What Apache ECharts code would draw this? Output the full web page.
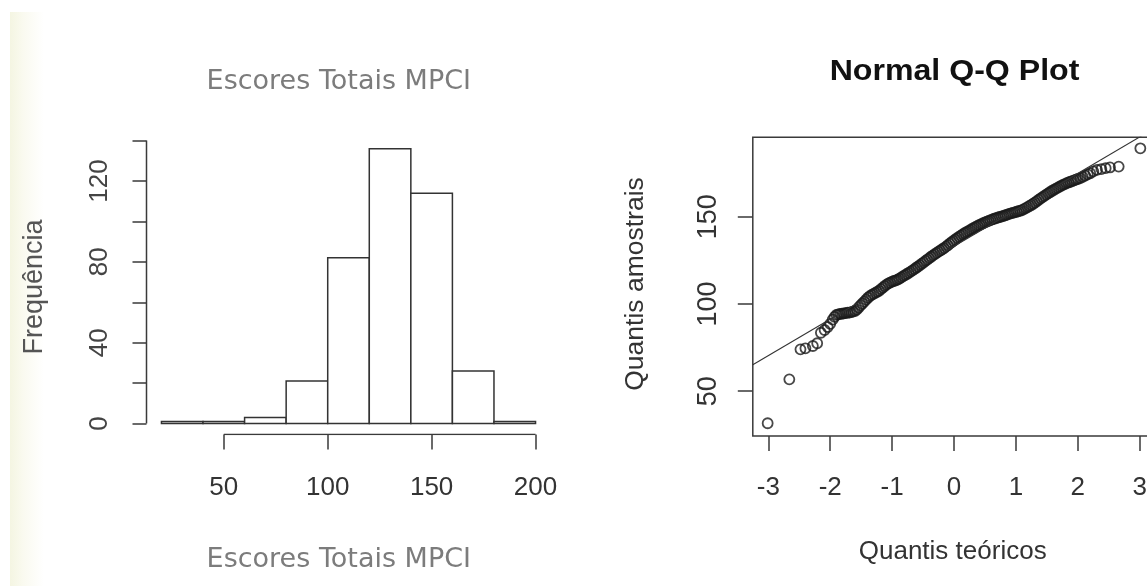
<!DOCTYPE html>
<html>
<head>
<meta charset="utf-8">
<script src="https://cdn.jsdelivr.net/npm/echarts@6/dist/echarts.min.js"></script>
<style>
  html, body { margin: 0; padding: 0; background: #fff; }
  #chart { width: 1147px; height: 586px; }
</style>
</head>
<body>
<div id="chart"></div>
<script>
// histograma
const histBreaks = [20, 40, 60, 80, 100, 120, 140, 160, 180, 200];
const histCounts = [1, 1, 3, 21, 82, 136, 114, 26, 1];
const histXTicks = [50, 100, 150, 200];
const histYTicks = [0, 20, 40, 60, 80, 100, 120, 140];
const histYLabels = [0, 40, 80, 120];

// Q-Q: [quantil teórico, quantil amostral]
const qqPoints = [
  [-3.01, 31.6], [-2.66, 56.8], [-2.48, 74.0], [-2.40, 74.6], [-2.28, 75.9], [-2.21, 77.5],
  [-2.15, 83.5], [-2.09, 85.1], [-2.04, 86.8], [-2.00, 88.6], [-1.96, 91.0], [-1.93, 92.6],
  [-1.90, 93.8], [-1.87, 94.1], [-1.84, 94.3], [-1.81, 94.4], [-1.78, 94.6], [-1.75, 94.8],
  [-1.72, 95.0], [-1.69, 95.1], [-1.66, 95.3], [-1.63, 95.6], [-1.60, 96.0], [-1.57, 96.8],
  [-1.54, 98.0], [-1.51, 99.2], [-1.48, 100.3], [-1.45, 101.4], [-1.42, 102.5], [-1.39, 103.6],
  [-1.36, 104.5], [-1.33, 105.2], [-1.30, 105.8], [-1.27, 106.4], [-1.24, 107.0], [-1.21, 107.6],
  [-1.18, 108.5], [-1.15, 109.4], [-1.12, 110.3], [-1.09, 111.1], [-1.06, 111.8], [-1.03, 112.3],
  [-1.00, 112.8], [-0.97, 113.2], [-0.94, 113.6], [-0.91, 114.0], [-0.88, 114.6], [-0.85, 115.3],
  [-0.82, 116.0], [-0.79, 116.6], [-0.76, 117.2], [-0.73, 117.9], [-0.70, 118.6], [-0.67, 119.3],
  [-0.64, 120.0], [-0.61, 120.8], [-0.58, 121.5], [-0.55, 122.3], [-0.52, 123.1], [-0.49, 123.9],
  [-0.46, 124.7], [-0.43, 125.5], [-0.40, 126.3], [-0.37, 127.1], [-0.34, 127.9], [-0.31, 128.6],
  [-0.28, 129.3], [-0.25, 130.0], [-0.22, 130.7], [-0.19, 131.4], [-0.16, 132.1], [-0.13, 132.9],
  [-0.10, 133.7], [-0.07, 134.6], [-0.04, 135.4], [-0.01, 136.2], [0.02, 137.0], [0.05, 137.8],
  [0.08, 138.5], [0.11, 139.2], [0.14, 139.9], [0.17, 140.6], [0.20, 141.2], [0.23, 141.8],
  [0.26, 142.4], [0.29, 143.0], [0.32, 143.6], [0.35, 144.2], [0.38, 144.8], [0.41, 145.3],
  [0.44, 145.8], [0.47, 146.3], [0.50, 146.8], [0.53, 147.2], [0.56, 147.7], [0.59, 148.1],
  [0.62, 148.5], [0.65, 148.9], [0.68, 149.3], [0.71, 149.6], [0.74, 149.9], [0.77, 150.2],
  [0.80, 150.5], [0.83, 150.9], [0.86, 151.3], [0.89, 151.7], [0.92, 152.0], [0.95, 152.3],
  [0.98, 152.6], [1.01, 152.9], [1.04, 153.2], [1.07, 153.5], [1.10, 153.8], [1.13, 154.4],
  [1.16, 155.0], [1.19, 155.6], [1.22, 156.2], [1.25, 156.8], [1.28, 157.5], [1.31, 158.2],
  [1.34, 159.0], [1.37, 159.8], [1.40, 160.6], [1.43, 161.3], [1.46, 162.0], [1.49, 162.7],
  [1.52, 163.4], [1.55, 164.1], [1.58, 164.8], [1.61, 165.4], [1.64, 166.0], [1.67, 166.6],
  [1.70, 167.2], [1.73, 167.8], [1.76, 168.3], [1.79, 168.8], [1.82, 169.3], [1.85, 169.7],
  [1.88, 170.1], [1.91, 170.5], [1.94, 170.9], [1.97, 171.3], [2.00, 171.7], [2.04, 172.2],
  [2.08, 172.9], [2.12, 173.6], [2.16, 174.3], [2.20, 175.0], [2.25, 176.1], [2.31, 176.9],
  [2.38, 177.4], [2.45, 177.9], [2.52, 178.3], [2.66, 178.8], [3.01, 189.3]
];
const qqLineIntercept = 133.1;
const qqLineSlope = 20.9;
const qqXTicks = [-3, -2, -1, 0, 1, 2, 3];
const qqYTicks = [50, 100, 150];

// limites como no R (faixa + 4%)
const histXMin = 12.8, histXMax = 207.2, histYMin = -5.44, histYMax = 141.44;
const qqXMin = -3.25, qqXMax = 3.25, qqYMin = 24.3, qqYMax = 195.6;

const axisColor = '#3a3a3a';
const labelFont = '"Liberation Sans", Arial, sans-serif';

const histData = histCounts.map((c, i) => [histBreaks[i], histBreaks[i + 1], c]);
const qqLineData = [qqXMin, qqXMax].map(x => [x, qqLineIntercept + qqLineSlope * x]);

const chart = echarts.init(document.getElementById('chart'));

const tickStyle = { show: true, length: 15, lineStyle: { color: axisColor, width: 1.5 } };

const option = {
    animation: false,
    backgroundColor: '#fff',
    grid: [
        { left: 146.5, top: 137.7, width: 404, height: 296.8, outerBoundsMode: 'none' },
        // a borda direita do painel fica fora da imagem, como no original
        { left: 752.8, top: 137.3, width: 402.4, height: 298.7, outerBoundsMode: 'none',
          show: true, borderColor: axisColor, borderWidth: 1.5, backgroundColor: 'transparent' }
    ],
    xAxis: [
        {
            gridIndex: 0, type: 'value', min: histXMin, max: histXMax,
            axisLine: { show: false, onZero: false },
            splitLine: { show: false },
            axisTick: Object.assign({ customValues: histXTicks }, tickStyle),
            axisLabel: { customValues: histXTicks, margin: 40, color: '#333',
                         fontSize: 26, fontFamily: labelFont }
        },
        {
            gridIndex: 1, type: 'value', min: qqXMin, max: qqXMax,
            axisLine: { show: false, onZero: false },
            splitLine: { show: false },
            axisTick: Object.assign({ customValues: qqXTicks }, tickStyle),
            axisLabel: { customValues: qqXTicks, margin: 39, color: '#333',
                         fontSize: 26, fontFamily: labelFont }
        }
    ],
    yAxis: [
        {
            gridIndex: 0, type: 'value', min: histYMin, max: histYMax,
            axisLine: { show: false, onZero: false },
            splitLine: { show: false },
            axisTick: Object.assign({ customValues: histYTicks }, tickStyle, { length: 14 }),
            axisLabel: { customValues: histYLabels, rotate: 90, margin: 34, color: '#444',
                         fontSize: 26, fontFamily: labelFont }
        },
        {
            gridIndex: 1, type: 'value', min: qqYMin, max: qqYMax,
            axisLine: { show: false, onZero: false },
            splitLine: { show: false },
            axisTick: Object.assign({ customValues: qqYTicks }, tickStyle),
            axisLabel: { customValues: qqYTicks, rotate: 90, margin: 31, color: '#333',
                         fontSize: 27, fontFamily: labelFont }
        }
    ],
    series: [
        {
            type: 'custom',
            xAxisIndex: 0, yAxisIndex: 0,
            data: histData,
            renderItem: function (params, api) {
                const p0 = api.coord([api.value(0), api.value(2)]);
                const p1 = api.coord([api.value(1), 0]);
                return {
                    type: 'rect',
                    shape: { x: p0[0], y: p0[1], width: p1[0] - p0[0], height: p1[1] - p0[1] },
                    style: { fill: '#fff', stroke: '#333', lineWidth: 1.5 }
                };
            }
        },
        {
            // eixo y do histograma (0 a 140)
            type: 'line', xAxisIndex: 0, yAxisIndex: 0, symbol: 'none', silent: true,
            data: [[histXMin, histYTicks[0]], [histXMin, histYTicks[histYTicks.length - 1]]],
            lineStyle: { color: axisColor, width: 1.5 }
        },
        {
            // eixo x do histograma (50 a 200)
            type: 'line', xAxisIndex: 0, yAxisIndex: 0, symbol: 'none', silent: true,
            data: [[histXTicks[0], histYMin], [histXTicks[histXTicks.length - 1], histYMin]],
            lineStyle: { color: axisColor, width: 1.5 }
        },
        {
            type: 'line', xAxisIndex: 1, yAxisIndex: 1, symbol: 'none', silent: true,
            data: qqLineData,
            lineStyle: { color: '#333', width: 1.1 }
        },
        {
            type: 'scatter', xAxisIndex: 1, yAxisIndex: 1,
            symbol: 'circle', symbolSize: 10,
            data: qqPoints,
            itemStyle: { color: 'transparent', borderColor: '#1a1a1a', borderWidth: 1.8 }
        }
    ],
    graphic: [
        {
            type: 'rect', z: -10, silent: true,
            shape: { x: 10, y: 12, width: 34, height: 574 },
            style: {
                fill: new echarts.graphic.LinearGradient(0, 0, 1, 0, [
                    { offset: 0, color: '#f4f5e2' },
                    { offset: 0.4, color: '#fafaf0' },
                    { offset: 1, color: '#ffffff' }
                ])
            }
        },
        {
            type: 'text', x: 338.8, y: 81.7,
            style: { text: 'Escores Totais MPCI', align: 'center', verticalAlign: 'middle',
                     font: '27px "DejaVu Sans", sans-serif', fill: '#7c7c7c' }
        },
        {
            type: 'text', x: 338.8, y: 560,
            style: { text: 'Escores Totais MPCI', align: 'center', verticalAlign: 'middle',
                     font: '27px "DejaVu Sans", sans-serif', fill: '#7c7c7c' }
        },
        {
            type: 'text', x: 34.5, y: 287, rotation: Math.PI / 2,
            style: { text: 'Frequência', align: 'center', verticalAlign: 'middle',
                     font: '27px ' + labelFont, fill: '#555' }
        },
        {
            type: 'text', x: 954.5, y: 72, scaleX: 1.07,
            style: { text: 'Normal Q-Q Plot', align: 'center', verticalAlign: 'middle',
                     font: 'bold 30px ' + labelFont, fill: '#111' }
        },
        {
            type: 'text', x: 952.7, y: 551.7,
            style: { text: 'Quantis teóricos', align: 'center', verticalAlign: 'middle',
                     font: '26px ' + labelFont, fill: '#333' }
        },
        {
            type: 'text', x: 636, y: 284, rotation: Math.PI / 2,
            style: { text: 'Quantis amostrais', align: 'center', verticalAlign: 'middle',
                     font: '26.5px ' + labelFont, fill: '#333' }
        }
    ]
};

chart.setOption(option);

window.addEventListener('resize', () => {
    chart.resize();
});
</script>
</body>
</html>
